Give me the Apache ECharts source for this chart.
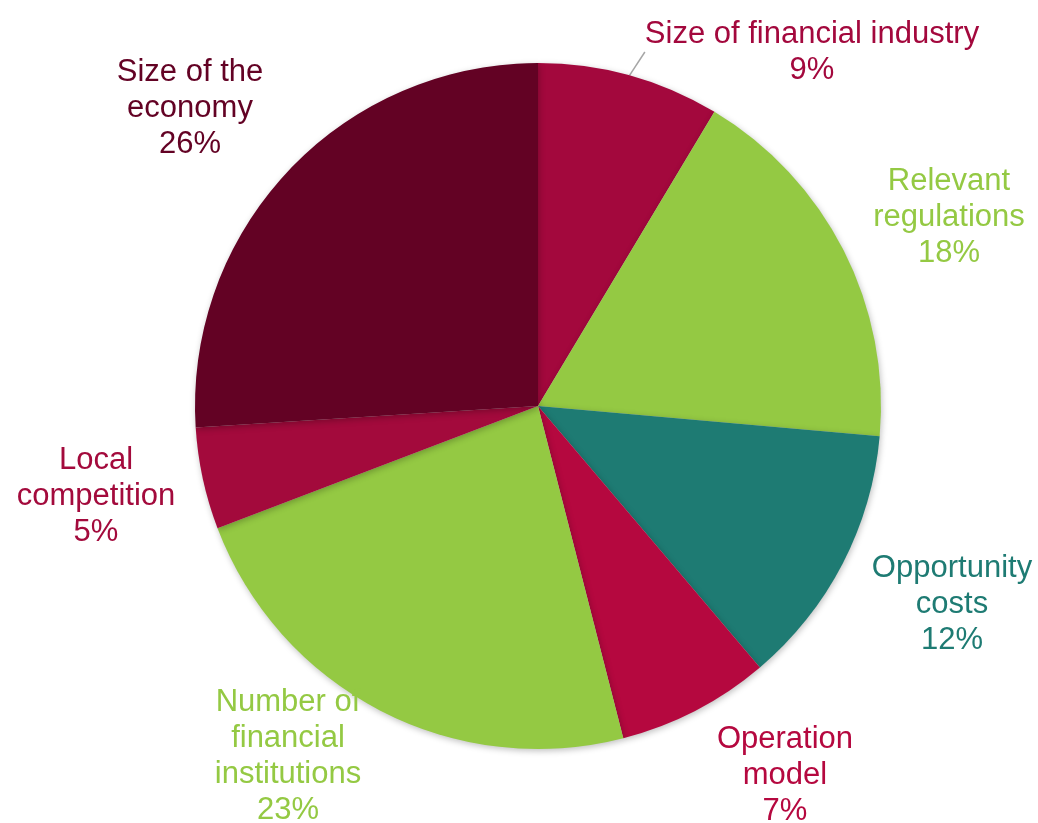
<!DOCTYPE html>
<html>
<head>
<meta charset="utf-8">
<script src="https://cdn.jsdelivr.net/npm/echarts@6/dist/echarts.min.js"></script>
<style>
  html, body { margin: 0; padding: 0; background: #fff; }
  #main { width: 1038px; height: 823px; }
</style>
</head>
<body>
<div id="main"></div>
<script>
    var categories = ['Size of financial industry', 'Relevant\nregulations', 'Opportunity\ncosts', 'Operation\nmodel',
        'Number of\nfinancial\ninstitutions', 'Local\ncompetition', 'Size of the\neconomy'];
    var shares = [8.6, 17.8, 12.4, 7.2, 23.2, 4.8, 26.0];
    var colors = ['#A3083D', '#94C943', '#1E7B73', '#B5083F', '#94C943', '#A30A3C', '#630224'];
    // label block centres (layout only)
    var labelSpots = [[812, 52], [949, 217], [952, 604], [785, 775], [288, 756], [96, 496], [190, 108]];

    var data = categories.map(function (name, i) {
        return {
            name: name,
            value: shares[i],
            itemStyle: { color: colors[i] },
            label: { color: colors[i] },
            labelLine: { show: i === 0 }
        };
    });

    var chart = echarts.init(document.getElementById('main'));
    chart.setOption({
        animation: false,
        series: [{
            type: 'pie',
            center: [538, 406],
            radius: 343,
            startAngle: 90,
            data: data,
            itemStyle: {
                shadowBlur: 6,
                shadowColor: 'rgba(0,0,0,0.25)',
                shadowOffsetX: 1,
                shadowOffsetY: 2
            },
            label: {
                show: true,
                position: 'outside',
                formatter: function (p) {
                    return p.name + '\n' + Math.round(p.value) + '%';
                },
                fontFamily: 'Liberation Sans, Arial, sans-serif',
                fontSize: 31,
                lineHeight: 36,
                align: 'center'
            },
            labelLine: {
                length: 10,
                length2: 0,
                lineStyle: { color: '#A6A6A6', width: 1.5 }
            },
            labelLayout: function (params) {
                var p = labelSpots[params.dataIndex];
                return { x: p[0], y: p[1], align: 'center', verticalAlign: 'middle' };
            }
        }]
    });
</script>
</body>
</html>
